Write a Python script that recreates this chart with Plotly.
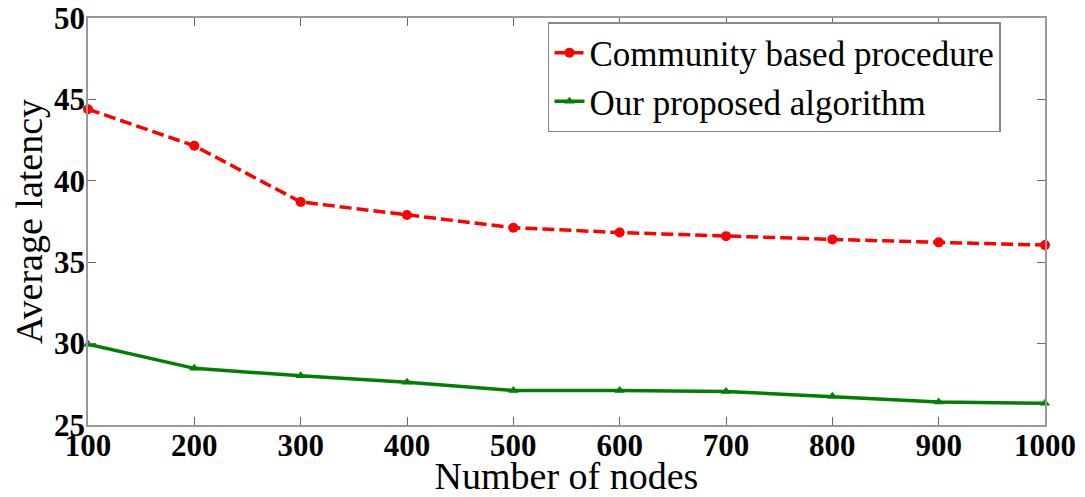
import plotly.graph_objects as go

nodes = [100, 200, 300, 400, 500, 600, 700, 800, 900, 1000]
community = [44.4, 42.15, 38.7, 37.9, 37.12, 36.82, 36.6, 36.4, 36.22, 36.05]
proposed = [29.96, 28.48, 28.02, 27.62, 27.12, 27.12, 27.06, 26.76, 26.42, 26.33]

fig = go.Figure()
fig.add_trace(go.Scatter(
    x=nodes, y=community, mode="lines+markers", name="Community based procedure",
    line=dict(color="#ff0000", width=3.5, dash="12px,5px"),
    marker=dict(symbol="circle", size=10, color="#ff0000"),
    cliponaxis=False,
))
fig.add_trace(go.Scatter(
    x=nodes, y=proposed, mode="lines+markers", name="Our proposed algorithm",
    line=dict(color="#007f00", width=3.5),
    marker=dict(symbol="triangle-up", size=9, color="#007f00"),
    cliponaxis=False,
))

axis_common = dict(
    showline=True, linecolor="#999999", linewidth=1.5, mirror="ticks",
    ticks="inside", ticklen=8, tickcolor="#666666", showgrid=False, zeroline=False,
    automargin=False, ticklabeloverflow="allow",
    tickfont=dict(family="Liberation Serif", size=31, color="black", weight="bold"),
)
fig.update_xaxes(range=[100, 1000], tickvals=nodes, ticklabelstandoff=-8,
                 title=dict(text="Number of nodes",
                            font=dict(family="Liberation Serif", size=38, color="black"), standoff=11),
                 **axis_common)
fig.update_yaxes(range=[25, 50], tickvals=[25, 30, 35, 40, 45, 50], ticklabelstandoff=-5,
                 title=dict(text="Average latency",
                            font=dict(family="Liberation Serif", size=38, color="black"), standoff=5),
                 **axis_common)

fig.update_layout(
    width=1077, height=489,
    margin=dict(l=80, r=40, t=10, b=72),
    plot_bgcolor="white", paper_bgcolor="white",
    showlegend=True,
    legend=dict(x=0.954, y=0.99, xanchor="right", yanchor="top",
                bgcolor="white", bordercolor="#888888", borderwidth=1.5,
                font=dict(family="Liberation Serif", size=35, color="black"),
                itemwidth=30, tracegroupgap=0),
)
fig.write_html("out.html")
